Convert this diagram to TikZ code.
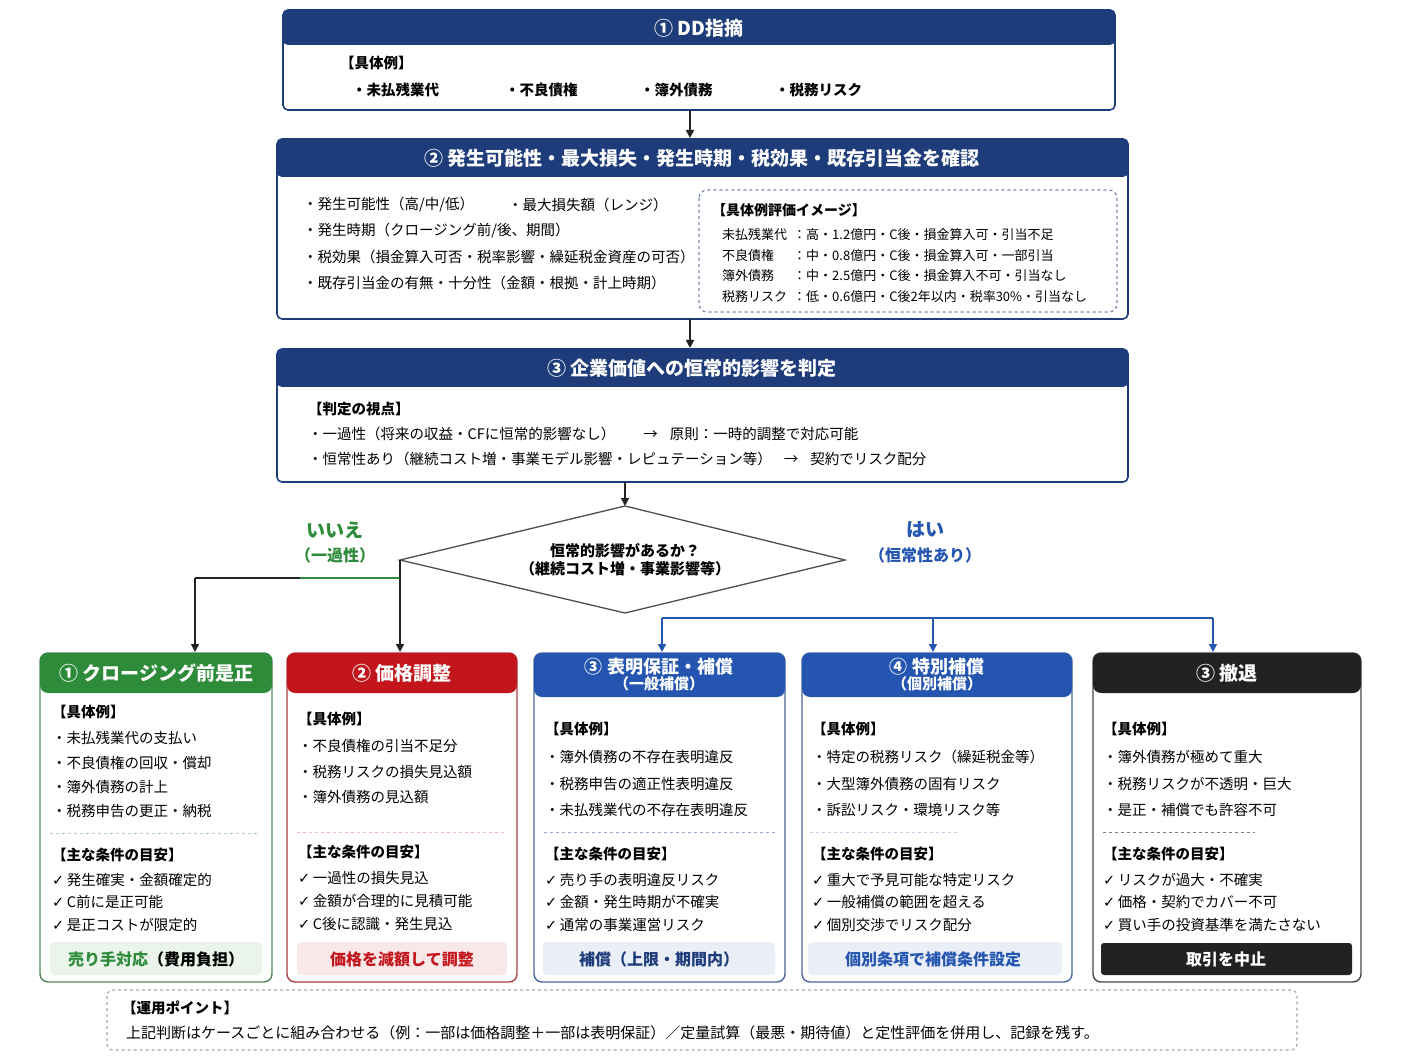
\documentclass[tikz,border=0pt]{standalone}
\usepackage{fontspec}
\setmainfont{Noto Sans CJK JP}
\newfontfamily\djv{DejaVu Sans}
\usetikzlibrary{arrows.meta}
\definecolor{navy}{HTML}{1E3C7A}
\definecolor{grn}{HTML}{2E8B3A}
\definecolor{rd}{HTML}{C3161C}
\definecolor{blu}{HTML}{2455B0}
\definecolor{blk}{HTML}{222222}
\newcommand{\ck}{{\djv ✓}\,}
\tikzset{
 hd/.style={font=\bfseries\fontsize{19}{22}\selectfont,text=white},
 tx/.style={font=\fontsize{14.5}{17}\selectfont,anchor=west,inner sep=0},
 sm/.style={font=\fontsize{13}{15}\selectfont,anchor=west,inner sep=0},
 arr/.style={-{Triangle[length=8pt,width=8pt]},line width=1.6pt,draw=blk},
}
\begin{document}
\begin{tikzpicture}[x=1pt,y=-1pt]
\useasboundingbox (0,0) rectangle (1408,1056);
% Box1
\draw[navy,line width=1.6pt,fill=white,rounded corners=5] (283,10) rectangle (1115,110);
\fill[navy,rounded corners=5] (283,10) rectangle (1115,45);
\node[hd] (h1) at (699,28) {① DD指摘};
\node[tx,font=\bfseries\fontsize{14.5}{17}\selectfont] (b1a) at (340,63) {【具体例】};
\node[tx,font=\bfseries\fontsize{14.5}{17}\selectfont] at (352,90) {・未払残業代};
\node[tx,font=\bfseries\fontsize{14.5}{17}\selectfont] at (505,90) {・不良債権};
\node[tx,font=\bfseries\fontsize{14.5}{17}\selectfont] at (640,90) {・簿外債務};
\node[tx,font=\bfseries\fontsize{14.5}{17}\selectfont] at (775,90) {・税務リスク};
\coordinate (b1) at (690,110); \coordinate (t2) at (690,138);
\draw[arr] (b1) -- (t2);
% Box2
\draw[navy,line width=1.6pt,fill=white,rounded corners=5] (277,139) rectangle (1128,319);
\fill[navy,rounded corners=5] (277,139) rectangle (1128,177);
\node[hd] (h2) at (702,158) {② 発生可能性・最大損失・発生時期・税効果・既存引当金を確認};
\node[tx] at (303,205) {・発生可能性（高/中/低）};
\node[tx] at (508,205) {・最大損失額（レンジ）};
\node[tx] at (303,231) {・発生時期（クロージング前/後、期間）};
\node[tx] at (303,257) {・税効果（損金算入可否・税率影響・繰延税金資産の可否）};
\node[tx] at (303,283) {・既存引当金の有無・十分性（金額・根拠・計上時期）};
\draw[navy!60,dashed,line width=1.2pt,rounded corners=8] (699,190) rectangle (1117,312);
\node[tx,font=\bfseries\fontsize{14}{16}\selectfont] at (712,210) {【具体例評価イメージ】};
\node[sm] at (722,235) {未払残業代};\node[sm] at (793,235) {：高・1.2億円・C後・損金算入可・引当不足};
\node[sm] at (722,256) {不良債権};\node[sm] at (793,256) {：中・0.8億円・C後・損金算入可・一部引当};
\node[sm] at (722,276) {簿外債務};\node[sm] at (793,276) {：中・2.5億円・C後・損金算入不可・引当なし};
\node[sm] at (722,297) {税務リスク};\node[sm] at (793,297) {：低・0.6億円・C後2年以内・税率30\%・引当なし};
\coordinate (b2) at (690,319); \coordinate (t3) at (690,348);
\draw[arr] (b2) -- (t3);
% Box3
\draw[navy,line width=1.6pt,fill=white,rounded corners=5] (277,349) rectangle (1128,482);
\fill[navy,rounded corners=5] (277,349) rectangle (1128,387);
\node[hd] (h3) at (692,368) {③ 企業価値への恒常的影響を判定};
\node[tx,font=\bfseries\fontsize{14.5}{17}\selectfont] at (308,409) {【判定の視点】};
\node[tx] at (308,434) {・一過性（将来の収益・CFに恒常的影響なし）\hspace{28pt}→\hspace{12pt}原則：一時的調整で対応可能};
\node[tx] at (308,459) {・恒常性あり（継続コスト増・事業モデル影響・レピュテーション等）\hspace{12pt}→\hspace{12pt}契約でリスク配分};
\coordinate (b3) at (625,482); \coordinate (dt) at (625,506);
\draw[arr] (b3) -- (dt);
% Diamond
\draw[blk!80,line width=1.3pt,fill=white] (625,506) -- (845,560) -- (625,613) -- (400,560) -- cycle;
\node[font=\bfseries\fontsize{15}{18}\selectfont,align=center] (dq) at (625,560) {恒常的影響があるか？\\（継続コスト増・事業影響等）};
\node[font=\bfseries\fontsize{19}{22}\selectfont,text=grn] (no) at (335,530) {いいえ};
\node[font=\bfseries\fontsize{16}{19}\selectfont,text=grn] at (335,555) {（一過性）};
\node[font=\bfseries\fontsize{19}{22}\selectfont,text=blu] (yes) at (925,530) {はい};
\node[font=\bfseries\fontsize{16}{19}\selectfont,text=blu] at (925,555) {（恒常性あり）};
% left connectors
\coordinate (dl) at (400,560); \coordinate (jl) at (400,578); \coordinate (c1) at (195,578);
\coordinate (t1b) at (195,652); \coordinate (t2b) at (400,652);
\draw[line width=1.6pt,blk] (dl) -- (jl);
\draw[line width=1.6pt,blk] (c1) -- (300,578);
\draw[line width=1.6pt,grn] (300,578) -- (jl);
\draw[arr] (c1) -- (t1b);
\draw[arr] (jl) -- (t2b);
% right connectors
\coordinate (db) at (625,613); \coordinate (r1) at (662,618); \coordinate (r3) at (1213,618); \coordinate (r2) at (933,618);
\draw[line width=1.6pt,blu] (r1) -- (r3);
\draw[arr,draw=blu,blu] (r1) -- (662,652);
\draw[arr,draw=blu,blu] (r2) -- (933,652);
\draw[arr,draw=blu,blu] (r3) -- (1213,652);
% bottom boxes
\newcommand{\bbox}[4]{% x1 x2 color header-bottom
 \draw[#3!60!gray,line width=1.4pt,fill=white,rounded corners=8] (#1,653) rectangle (#2,982);
 \fill[#3,rounded corners=8] (#1,653) rectangle (#2,#4);
}
\bbox{40}{272}{grn}{693}
\node[hd] at (156,673) {① クロージング前是正};
\bbox{287}{517}{rd}{693}
\node[hd] at (402,673) {② 価格調整};
\bbox{534}{785}{blu}{697}
\node[hd,align=center,font=\bfseries\fontsize{18}{17}\selectfont] at (659,675) {③ 表明保証・補償\\[-1pt]{\fontsize{15}{16}\selectfont（一般補償）}};
\bbox{802}{1072}{blu}{697}
\node[hd,align=center,font=\bfseries\fontsize{18}{17}\selectfont] at (937,675) {④ 特別補償\\[-1pt]{\fontsize{15}{16}\selectfont（個別補償）}};
\bbox{1093}{1361}{blk}{693}
\node[hd] at (1227,673) {③ 撤退};
% contents A
\node[tx,font=\bfseries\fontsize{14.5}{17}\selectfont] at (52,712) {【具体例】};
\node[tx] at (52,738) {・未払残業代の支払い};
\node[tx] at (52,763) {・不良債権の回収・償却};
\node[tx] at (52,787) {・簿外債務の計上};
\node[tx] at (52,811) {・税務申告の更正・納税};
\draw[grn!40,dashed,line width=1pt] (50,833) -- (260,833);
\node[tx,font=\bfseries\fontsize{14.5}{17}\selectfont] at (52,855) {【主な条件の目安】};
\node[tx] at (52,880) {\ck 発生確実・金額確定的};
\node[tx] at (52,902) {\ck C前に是正可能};
\node[tx] at (52,925) {\ck 是正コストが限定的};
\fill[grn!10,rounded corners=4] (50,942) rectangle (262,975);
\node[font=\bfseries\fontsize{16}{19}\selectfont] at (156,959) {\textcolor{grn}{売り手対応}（費用負担）};
% B
\node[tx,font=\bfseries\fontsize{14.5}{17}\selectfont] at (298,719) {【具体例】};
\node[tx] at (298,746) {・不良債権の引当不足分};
\node[tx] at (298,772) {・税務リスクの損失見込額};
\node[tx] at (298,797) {・簿外債務の見込額};
\draw[rd!30,dashed,line width=1pt] (297,832) -- (507,832);
\node[tx,font=\bfseries\fontsize{14.5}{17}\selectfont] at (298,852) {【主な条件の目安】};
\node[tx] at (298,878) {\ck 一過性の損失見込};
\node[tx] at (298,901) {\ck 金額が合理的に見積可能};
\node[tx] at (298,924) {\ck C後に認識・発生見込};
\fill[rd!10,rounded corners=4] (297,942) rectangle (507,975);
\node[font=\bfseries\fontsize{16}{19}\selectfont,text=rd] at (402,959) {価格を減額して調整};
% C
\node[tx,font=\bfseries\fontsize{14.5}{17}\selectfont] at (545,729) {【具体例】};
\node[tx] at (545,757) {・簿外債務の不存在表明違反};
\node[tx] at (545,784) {・税務申告の適正性表明違反};
\node[tx] at (545,810) {・未払残業代の不存在表明違反};
\draw[blu!50,dashed,line width=1pt] (544,832) -- (775,832);
\node[tx,font=\bfseries\fontsize{14.5}{17}\selectfont] at (545,854) {【主な条件の目安】};
\node[tx] at (545,880) {\ck 売り手の表明違反リスク};
\node[tx] at (545,902) {\ck 金額・発生時期が不確実};
\node[tx] at (545,925) {\ck 通常の事業運営リスク};
\fill[blu!10,rounded corners=4] (543,942) rectangle (775,975);
\node[font=\bfseries\fontsize{16}{19}\selectfont,text=navy] at (659,959) {補償（上限・期間内）};
% D
\node[tx,font=\bfseries\fontsize{14.5}{17}\selectfont] at (812,729) {【具体例】};
\node[tx] at (812,757) {・特定の税務リスク（繰延税金等）};
\node[tx] at (812,784) {・大型簿外債務の固有リスク};
\node[tx] at (812,810) {・訴訟リスク・環境リスク等};
\draw[blu!30,dashed,line width=1pt] (810,832) -- (960,832);
\node[tx,font=\bfseries\fontsize{14.5}{17}\selectfont] at (812,854) {【主な条件の目安】};
\node[tx] at (812,880) {\ck 重大で予見可能な特定リスク};
\node[tx] at (812,902) {\ck 一般補償の範囲を超える};
\node[tx] at (812,925) {\ck 個別交渉でリスク配分};
\fill[blu!10,rounded corners=4] (808,942) rectangle (1062,975);
\node[font=\bfseries\fontsize{16}{19}\selectfont,text=blu] at (933,959) {個別条項で補償条件設定};
% E
\node[tx,font=\bfseries\fontsize{14.5}{17}\selectfont] at (1103,729) {【具体例】};
\node[tx] at (1103,757) {・簿外債務が極めて重大};
\node[tx] at (1103,784) {・税務リスクが不透明・巨大};
\node[tx] at (1103,810) {・是正・補償でも許容不可};
\draw[blk!60,dashed,line width=1pt] (1103,832) -- (1255,832);
\node[tx,font=\bfseries\fontsize{14.5}{17}\selectfont] at (1103,854) {【主な条件の目安】};
\node[tx] at (1103,880) {\ck リスクが過大・不確実};
\node[tx] at (1103,902) {\ck 価格・契約でカバー不可};
\node[tx] at (1103,925) {\ck 買い手の投資基準を満たさない};
\fill[blk,rounded corners=3] (1101,943) rectangle (1352,975);
\node[font=\bfseries\fontsize{16}{19}\selectfont,text=white] at (1226,959) {取引を中止};
% note
\draw[gray!70,dashed,line width=1.1pt,rounded corners=6] (107,990) rectangle (1297,1050);
\node[tx,font=\bfseries\fontsize{14.5}{17}\selectfont] at (122,1008) {【運用ポイント】};
\node[tx,font=\fontsize{15}{17}\selectfont] at (126,1033) {上記判断はケースごとに組み合わせる（例：一部は価格調整＋一部は表明保証）／定量試算（最悪・期待値）と定性評価を併用し、記録を残す。};
\end{tikzpicture}
\end{document}
